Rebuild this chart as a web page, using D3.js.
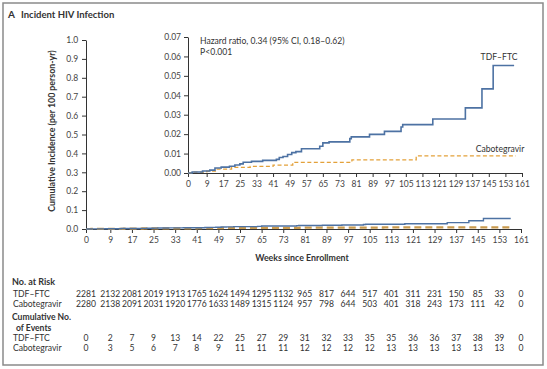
<!DOCTYPE html>
<html>
<head>
<meta charset="utf-8">
<script src="https://cdn.jsdelivr.net/npm/d3@7"></script>
<style>
  body { margin: 0; background: #fff; }
  text { font-family: Lato, "Open Sans", sans-serif; fill: #333; }
  .axis text { font-size: 8.5px; fill: #444; }
  .axis path, .axis line { stroke: #333; stroke-width: 1; }
</style>
</head>
<body>
<div id="chart"></div>
<script>
// tick weeks (also columns of the risk table)
const weekTicks = [0, 9, 17, 25, 33, 41, 49, 57, 65, 73, 81, 89, 97, 105, 113, 121, 129, 137, 145, 153, 161];

// step curves
const tdfWeeks = [0, 2, 7, 10.5, 13, 16, 20, 22.6, 25, 26.6, 30.6, 36, 42.6, 44, 45.8, 48, 50, 52, 54.7, 63.5, 65, 68, 78, 78.7, 87.5, 94.7, 102.7, 103.5, 118, 133.7, 141.7, 147.1, 157.2];
const tdfInc = [0, 0.0005, 0.001, 0.0015, 0.0026, 0.003, 0.0035, 0.0041, 0.0047, 0.0055, 0.006, 0.0065, 0.007, 0.008, 0.0085, 0.0095, 0.0105, 0.011, 0.0125, 0.0138, 0.0155, 0.016, 0.0177, 0.0186, 0.0199, 0.0214, 0.0237, 0.0249, 0.0278, 0.0335, 0.0433, 0.0553, 0.0553];
const cabWeeks = [0, 2, 9, 14, 21, 30, 41, 50.5, 79, 110, 158];
const cabInc = [0, 0.0005, 0.001, 0.002, 0.0029, 0.0034, 0.0041, 0.0055, 0.0068, 0.0088, 0.0088];

// table rows
const riskTdf = [2281, 2132, 2081, 2019, 1913, 1765, 1624, 1494, 1295, 1132, 965, 817, 644, 517, 401, 311, 231, 150, 85, 33, 0];
const riskCab = [2280, 2138, 2091, 2031, 1920, 1776, 1633, 1489, 1315, 1124, 957, 798, 644, 503, 401, 318, 243, 173, 111, 42, 0];
const eventsTdf = [0, 2, 7, 9, 13, 14, 22, 25, 27, 29, 31, 32, 33, 35, 35, 36, 36, 37, 38, 39, 0];
const eventsCab = [0, 3, 5, 6, 7, 8, 9, 11, 11, 11, 12, 12, 12, 12, 13, 13, 13, 13, 13, 13, 0];

const mainTicks = [0, 0.1, 0.2, 0.3, 0.4, 0.5, 0.6, 0.7, 0.8, 0.9, 1.0];
const insetTicks = [0, 0.01, 0.02, 0.03, 0.04, 0.05, 0.06, 0.07];

const blue = '#4d72a3';
const orange = '#e3a13a';

const width = 547;
const height = 369;
const svg = d3.select('#chart').append('svg')
  .attr('width', width)
  .attr('height', height);

// outer frame
svg.append('rect')
  .attr('x', 3).attr('y', 3)
  .attr('width', 540).attr('height', 362)
  .attr('fill', 'none')
  .attr('stroke', '#8a8a8a')
  .attr('stroke-width', 1.5);

svg.append('text')
  .attr('x', 8).attr('y', 18)
  .attr('font-size', 10).attr('font-weight', 'bold')
  .text('A');
svg.append('text')
  .attr('x', 21).attr('y', 18)
  .attr('font-size', 9.5).attr('font-weight', 'bold')
  .text('Incident HIV Infection');

const tdfData = tdfWeeks.map((w, i) => [w, tdfInc[i]]);
const cabData = cabWeeks.map((w, i) => [w, cabInc[i]]);

// main plot
const x = d3.scaleLinear().domain([0, 161]).range([86, 521]);
const y = d3.scaleLinear().domain([0, 1]).range([229, 40]);

const axisX = d3.axisBottom(x).tickValues(weekTicks).tickSize(4).tickSizeOuter(0);
svg.append('g').attr('class', 'axis')
  .attr('transform', `translate(0, ${y(0)})`)
  .call(axisX)
  .call(g => g.selectAll('text').attr('dy', '0.85em'));

const axisY = d3.axisLeft(y).tickValues(mainTicks).tickFormat(d3.format('.1f')).tickSize(4).tickSizeOuter(0);
svg.append('g').attr('class', 'axis')
  .attr('transform', `translate(${x(0)}, 0)`)
  .call(axisY)
  .call(g => g.selectAll('text').attr('dx', '-0.1em'));

const line = d3.line()
  .curve(d3.curveStepAfter)
  .x(d => x(d[0]))
  .y(d => y(d[1]));

svg.append('path')
  .attr('d', line(cabData))
  .attr('fill', 'none')
  .attr('stroke', '#c99a4e')
  .attr('stroke-width', 2.2)
  .attr('stroke-dasharray', '7,4');
svg.append('path')
  .attr('d', line(tdfData))
  .attr('fill', 'none')
  .attr('stroke', blue)
  .attr('stroke-width', 1.4);

svg.append('text')
  .attr('transform', 'translate(55, 131) rotate(-90)')
  .attr('text-anchor', 'middle')
  .attr('font-size', 8.8)
  .attr('font-weight', 'bold')
  .attr('fill', '#333')
  .text('Cumulative Incidence (per 100 person-yr)');

svg.append('text')
  .attr('x', 302).attr('y', 261)
  .attr('text-anchor', 'middle')
  .attr('font-size', 8.8)
  .attr('font-weight', 'bold')
  .text('Weeks since Enrollment');

// inset
const xi = d3.scaleLinear().domain([0, 161]).range([188, 522]);
const yi = d3.scaleLinear().domain([0, 0.07]).range([173, 37]);

svg.append('g').attr('class', 'axis')
  .attr('transform', `translate(0, ${yi(0)})`)
  .call(d3.axisBottom(xi).tickValues(weekTicks).tickSize(4).tickSizeOuter(0))
  .call(g => g.selectAll('text').attr('dy', '0.85em'));

svg.append('g').attr('class', 'axis')
  .attr('transform', `translate(${xi(0)}, 0)`)
  .call(d3.axisLeft(yi).tickValues(insetTicks).tickFormat(d3.format('.2f')).tickSize(4).tickSizeOuter(0));

const lineI = d3.line()
  .curve(d3.curveStepAfter)
  .x(d => xi(d[0]))
  .y(d => yi(d[1]));

svg.append('path')
  .attr('d', lineI(cabData))
  .attr('fill', 'none')
  .attr('stroke', orange)
  .attr('stroke-width', 1.3)
  .attr('stroke-dasharray', '4,2.5');
svg.append('path')
  .attr('d', lineI(tdfData))
  .attr('fill', 'none')
  .attr('stroke', blue)
  .attr('stroke-width', 1.6);

svg.append('text')
  .attr('x', 200).attr('y', 44)
  .attr('font-size', 8.6)
  .text('Hazard ratio, 0.34 (95% CI, 0.18\u20130.62)');
svg.append('text')
  .attr('x', 200).attr('y', 55)
  .attr('font-size', 8.6)
  .text('P<0.001');

svg.append('text')
  .attr('x', 499).attr('y', 60)
  .attr('text-anchor', 'middle')
  .attr('font-size', 8.6)
  .text('TDF\u2013FTC');
svg.append('text')
  .attr('x', 500).attr('y', 152)
  .attr('text-anchor', 'middle')
  .attr('font-size', 8.6)
  .text('Cabotegravir');

// risk table
const table = svg.append('g').attr('font-size', 8.6);

table.append('text').attr('x', 12).attr('y', 285)
  .attr('font-weight', 'bold').attr('font-size', 9).text('No. at Risk');
table.append('text').attr('x', 13).attr('y', 297).text('TDF\u2013FTC');
table.append('text').attr('x', 13).attr('y', 307).text('Cabotegravir');
table.append('text').attr('x', 12).attr('y', 320)
  .attr('font-weight', 'bold').attr('font-size', 8.6).text('Cumulative No.');
table.append('text').attr('x', 16).attr('y', 330.5)
  .attr('font-weight', 'bold').attr('font-size', 8.6).text('of Events');
table.append('text').attr('x', 13).attr('y', 341).text('TDF\u2013FTC');
table.append('text').attr('x', 13).attr('y', 350.5).text('Cabotegravir');

const rows = [
  { vals: riskTdf, y: 297 },
  { vals: riskCab, y: 307 },
  { vals: eventsTdf, y: 341 },
  { vals: eventsCab, y: 350.5 }
];
rows.forEach(r => {
  table.selectAll(null)
    .data(r.vals)
    .enter()
    .append('text')
    .attr('x', (d, i) => x(weekTicks[i]))
    .attr('y', r.y)
    .attr('text-anchor', 'middle')
    .text(d => d);
});
</script>
</body>
</html>
